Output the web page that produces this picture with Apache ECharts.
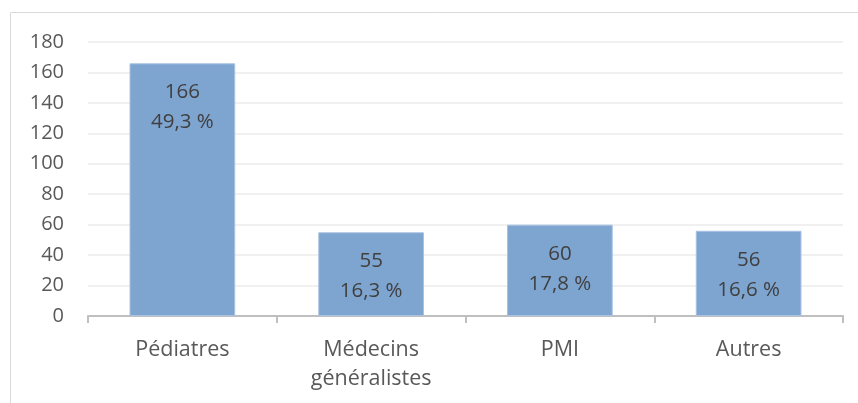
<!DOCTYPE html>
<html><head><meta charset="utf-8">
<script src="https://cdn.jsdelivr.net/npm/echarts@6/dist/echarts.min.js"></script>
<style>html,body{margin:0;padding:0;background:#fff}#c{width:858px;height:403px}</style>
</head><body><div id="c"></div>
<script>
const categories = ['Pédiatres', 'Médecins\ngénéralistes', 'PMI', 'Autres'];
const counts = [166, 55, 60, 56];
const percents = ['49,3 %', '16,3 %', '17,8 %', '16,6 %'];
const yTicks = [0, 20, 40, 60, 80, 100, 120, 140, 160, 180];

const chart = echarts.init(document.getElementById('c'));
const font = '"Open Sans", sans-serif';
chart.setOption({
  animation: false,
  graphic: [{
    type: 'rect', shape: {x: 10.5, y: 12.5, width: 1000, height: 1000},
    style: {fill: 'none', stroke: '#d9d9d9', lineWidth: 1}, silent: true
  }],
  grid: {left: 88, right: 15, top: 42, bottom: 87},
  xAxis: {
    type: 'category', data: categories,
    axisLine: {lineStyle: {color: '#bfbfbf', width: 2}},
    axisTick: {show: true, length: 7, lineStyle: {color: '#bfbfbf', width: 2}},
    axisLabel: {color: '#595959', fontSize: 21.5, fontFamily: font, margin: 19, lineHeight: 29}
  },
  yAxis: {
    type: 'value', min: yTicks[0], max: yTicks[yTicks.length - 1], interval: 20,
    axisLine: {show: false}, axisTick: {show: false},
    splitLine: {lineStyle: {color: '#f0f0f0', width: 2}},
    axisLabel: {color: '#595959', fontSize: 20, fontFamily: font, margin: 24}
  },
  series: [{
    type: 'bar', data: counts, barCategoryGap: '44%',
    itemStyle: {color: '#7ea4d0', borderColor: '#a9c2e2', borderWidth: 1},
    label: {
      show: true, position: 'insideTop', distance: 14,
      color: '#404040', fontSize: 20.5, fontFamily: font, lineHeight: 30,
      formatter: p => counts[p.dataIndex] + '\n' + percents[p.dataIndex]
    }
  }]
});
</script></body></html>
